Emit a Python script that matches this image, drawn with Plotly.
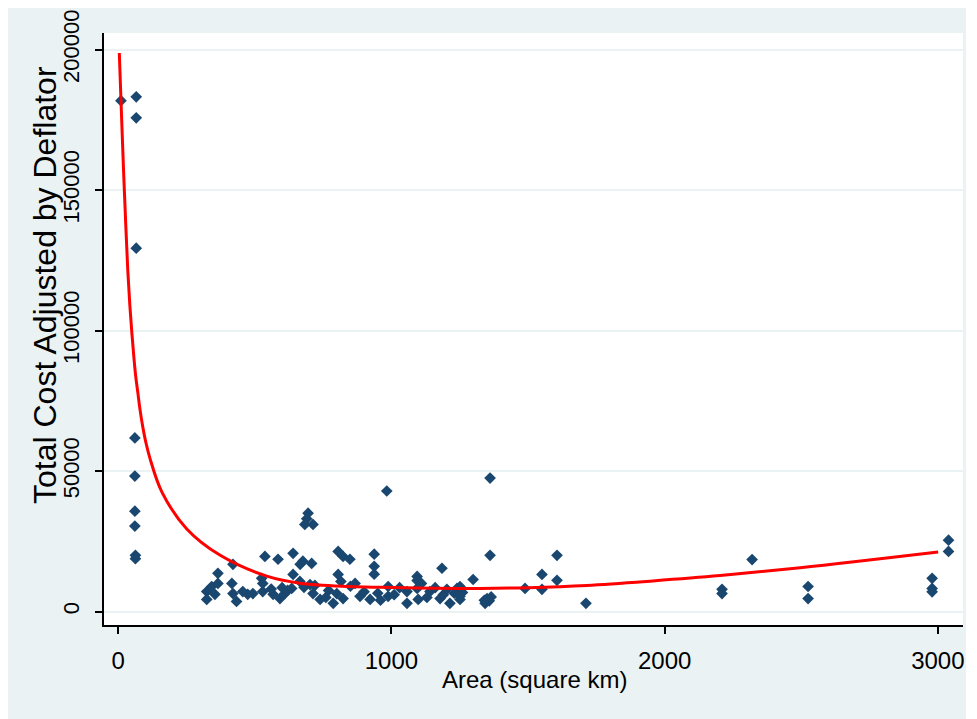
import plotly.graph_objects as go

# ---- scatter data ----
area = [10, 66, 66, 66, 61, 61, 61, 61, 63, 63,
        324, 324, 342, 365, 365, 354, 416, 420, 420, 433, 456, 474, 493, 529, 529,
        525, 537, 567, 585, 592, 610, 635, 640, 640, 665, 560, 600, 620,
        983, 1361, 1361, 695, 690, 683, 713, 676, 708, 666, 805, 823, 848,
        937, 937, 937, 1185, 1299, 1094, 1094, 1489, 805, 867, 702, 713, 739,
        787, 823, 885, 922, 988, 988, 1057, 1057, 1094, 1098, 1141, 1178, 1203,
        1240, 1251, 1214,
        680, 720, 760, 770, 800, 815, 850, 900, 950, 960, 1010, 1030, 1110, 1130,
        1160, 1190, 1230, 1260,
        1251, 1251, 1350, 1343, 1358, 1365, 1340, 1551, 1551, 1606, 1606, 1712,
        2210, 2210, 2320, 2525, 2525, 2979, 2979, 2979, 3039, 3039]
cost = [181800, 183200, 175700, 129300, 61800, 48200, 35700, 30400, 20000, 18800,
        7100, 4300, 8900, 13600, 10000, 6100, 10000, 16800, 6400, 3600, 7100, 6100, 6400, 10000, 7100,
        11800, 19600, 6100, 18600, 4600, 6400, 8200, 20700, 13200, 10700, 8000, 8500, 7500,
        42900, 47500, 20000, 35000, 33000, 31000, 31000, 17900, 17100, 16800, 21400, 19600, 18600,
        20400, 16100, 13300, 15400, 11400, 12500, 11000, 8200, 13200, 10000, 9600, 6400, 4300,
        2900, 4600, 5400, 4300, 8900, 5400, 7100, 2900, 8200, 4300, 7100, 4600, 7900,
        8200, 4300, 2900,
        8600, 9300, 5000, 7500, 6400, 10700, 9000, 7000, 6500, 4000, 6000, 8500, 10000, 5000,
        8500, 6000, 6500, 6800,
        8900, 5400, 4600, 2900, 3800, 5200, 4000, 13200, 7900, 20000, 11100, 2900,
        7900, 6400, 18500, 8900, 4600, 11800, 8200, 7000, 25400, 21400]

# ---- fitted curve ----
fit_area = [4, 13, 20.5, 28, 35, 42.5, 50, 57, 64, 72, 79, 90, 101, 116, 160,
            251, 372, 544, 665, 848, 958, 1100, 1324, 1500, 1715,
            1957, 2203, 2496, 3001]
fit_cost = [198800, 174200, 154600, 136800, 121500, 109100, 99100, 90900, 83800,
            77800, 72400, 65700, 60300, 54600, 42500, 29400, 20100, 12600, 10100,
            8900, 8600, 8350, 8200, 8500, 9300, 10900, 12800, 15600, 21200]

x_ticks = [0, 1000, 2000, 3000]
y_ticks = [0, 50000, 100000, 150000, 200000]

# The page body adds an 8px offset; the figure sits at (8, 8) in the window.
OFF = 8
W, H = 958, 711
L, R, T, B = 96, 3, 25, 94
PW, PH = W - L - R, H - T - B
PLOT_LEFT_PAGE = OFF + L
PLOT_BOTTOM_PAGE = OFF + H - B

fig = go.Figure()
fig.add_trace(go.Scatter(
    x=area, y=cost, mode="markers",
    marker=dict(symbol="diamond", size=9, color="#1a476f", line=dict(width=0)),
    showlegend=False, hoverinfo="x+y"))
fig.add_trace(go.Scatter(
    x=fit_area, y=fit_cost, mode="lines", line_shape="spline",
    line=dict(color="#ff0000", width=3), showlegend=False))

font = dict(family="Liberation Sans, Arial, sans-serif", color="#000000")

fig.update_layout(
    width=W, height=H,
    margin=dict(l=L, r=R, t=T, b=B, pad=0),
    paper_bgcolor="#eaf2f3", plot_bgcolor="#ffffff",
    font=dict(font, size=22),
    annotations=[
        dict(text="Total Cost Adjusted by Deflator", textangle=-90,
             xref="paper", yref="paper",
             x=(45 - PLOT_LEFT_PAGE) / PW, y=(PLOT_BOTTOM_PAGE - 285) / PH,
             xanchor="center", yanchor="middle", showarrow=False,
             font=dict(font, size=32)),
        dict(text="Area (square km)",
             xref="paper", yref="paper",
             x=(534 - PLOT_LEFT_PAGE) / PW, y=(PLOT_BOTTOM_PAGE - 679) / PH,
             xanchor="center", yanchor="middle", showarrow=False,
             font=dict(font, size=24)),
    ],
    xaxis=dict(
        range=[-52, 3092], tickvals=x_ticks, ticktext=[str(v) for v in x_ticks],
        automargin=False, ticklabeloverflow="allow",
        showgrid=False, zeroline=False, showline=True, linecolor="#000000", linewidth=1.5,
        ticks="outside", ticklen=7, tickwidth=1.5, tickcolor="#000000",
        tickfont=dict(font, size=24), ticklabelstandoff=6,
    ),
    yaxis=dict(
        range=[-4800, 205900], tickvals=y_ticks, ticktext=[str(v) for v in y_ticks],
        tickangle=-90, automargin=False, ticklabeloverflow="allow",
        showgrid=True, gridcolor="#eaf2f3", gridwidth=1.5, zeroline=False,
        showline=True, linecolor="#000000", linewidth=1.5,
        ticks="outside", ticklen=7, tickwidth=1.5, tickcolor="#000000",
        tickfont=dict(font, size=22), ticklabelstandoff=7,
    ),
)

fig.write_html("out.html")
